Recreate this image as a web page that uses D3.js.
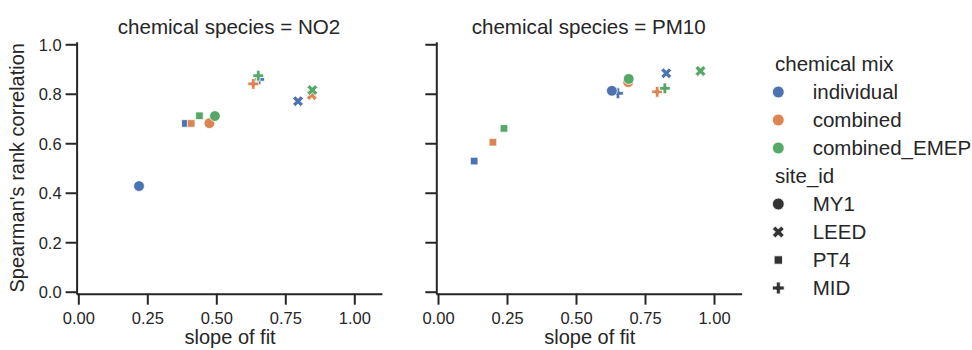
<!DOCTYPE html>
<html lang="en">
<head>
  <meta charset="UTF-8">
  <style>
    body { margin: 0; background: #fff; }
    svg { font-family: Arial, "Liberation Sans", sans-serif; }
    .axis path, .axis line { stroke: #262626; stroke-width: 2; }
    .axis text { fill: #262626; font-size: 16.5px; }
    .label { fill: #262626; font-size: 20px; }
    .title { fill: #262626; font-size: 20.6px; }
    .legend text { fill: #262626; font-size: 20.5px; }
  </style>
</head>
<body>
  <svg id="chart" width="972" height="350"></svg>
  <script src="https://cdnjs.cloudflare.com/ajax/libs/d3/7.8.5/d3.min.js"></script>
  <script>
    // categories
    const species = ['NO2', 'PM10']
    const mixes = ['individual', 'combined', 'combined_EMEP']
    const sites = ['MY1', 'LEED', 'PT4', 'MID']
    const mixColors = ['#4c72b0', '#dd8452', '#55a868']
    const xTicks = [0, 0.25, 0.5, 0.75, 1.0]
    const yTicks = [0, 0.2, 0.4, 0.6, 0.8, 1.0]

    // values, indexed like `sites`
    const no2IndividualSlope = [0.220, 0.796, 0.388, 0.655]
    const no2IndividualCorr  = [0.427, 0.770, 0.680, 0.858]
    const no2CombinedSlope   = [0.475, 0.846, 0.409, 0.634]
    const no2CombinedCorr    = [0.681, 0.795, 0.680, 0.840]
    const no2EmepSlope       = [0.495, 0.848, 0.439, 0.652]
    const no2EmepCorr        = [0.710, 0.815, 0.711, 0.873]

    const pm10IndividualSlope = [0.630, 0.827, 0.131, 0.652]
    const pm10IndividualCorr  = [0.812, 0.883, 0.528, 0.802]
    const pm10CombinedSlope   = [0.689, 0.951, 0.199, 0.794]
    const pm10CombinedCorr    = [0.847, 0.890, 0.604, 0.808]
    const pm10EmepSlope       = [0.691, 0.951, 0.239, 0.822]
    const pm10EmepCorr        = [0.860, 0.892, 0.660, 0.822]

    const series = {
      NO2: [[no2IndividualSlope, no2IndividualCorr], [no2CombinedSlope, no2CombinedCorr], [no2EmepSlope, no2EmepCorr]],
      PM10: [[pm10IndividualSlope, pm10IndividualCorr], [pm10CombinedSlope, pm10CombinedCorr], [pm10EmepSlope, pm10EmepCorr]],
    }
    // plotting order of the rows (site first, then mix)
    const drawSites = ['LEED', 'PT4', 'MID', 'MY1']

    // marker shapes, unit size (extent 1)
    const shapes = {
      MY1: null,
      LEED: [[-1,-2],[0,-1],[1,-2],[2,-1],[1,0],[2,1],[1,2],[0,1],[-1,2],[-2,1],[-1,0],[-2,-1]].map(p => [p[0]/4, p[1]/4]),
      PT4: [[-0.3536,-0.3536],[0.3536,-0.3536],[0.3536,0.3536],[-0.3536,0.3536]],
      MID: [[-1,-3],[1,-3],[1,-1],[3,-1],[3,1],[1,1],[1,3],[-1,3],[-1,1],[-3,1],[-3,-1],[-1,-1]].map(p => [p[0]/6, p[1]/6]),
    }
    function markerPath(site, size) {
      if (site === 'MY1') {
        const r = size / 2
        return `M${-r},0A${r},${r} 0 1,0 ${r},0A${r},${r} 0 1,0 ${-r},0Z`
      }
      return 'M' + shapes[site].map(p => [p[0]*size, p[1]*size].join(',')).join('L') + 'Z'
    }
    const msize = 10.8

    const svg = d3.select('#chart')

    const yScale = d3.scaleLinear().domain([-0.008, 1.01]).range([293.7, 41.8])
    const panels = [
      { sp: 'NO2', x0: 76.1 },
      { sp: 'PM10', x0: 435.8 },
    ]
    const panelW = 305.8

    panels.forEach((p, pi) => {
      const xScale = d3.scaleLinear().domain([-0.008, 1.1]).range([p.x0, p.x0 + panelW])
      const g = svg.append('g')

      // y axis
      const yAxis = d3.axisLeft(yScale).tickValues(yTicks).tickSize(11).tickSizeOuter(0).tickPadding(4)
        .tickFormat(d3.format('.1f'))
      const ya = g.append('g').attr('class', 'axis')
          .attr('transform', `translate(${p.x0 + 0.5},0)`)
          .call(yAxis)
      ya.selectAll('text').attr('dy', '0.36em')
      if (pi > 0) ya.selectAll('text').remove()

      // x axis
      const xAxis = d3.axisBottom(xScale).tickValues(xTicks).tickSize(11).tickSizeOuter(0).tickPadding(8)
        .tickFormat(d3.format('.2f'))
      g.append('g').attr('class', 'axis')
          .attr('transform', `translate(0,${yScale(-0.008)})`)
          .call(xAxis)

      // labels
      g.append('text').attr('class', 'label')
          .attr('x', xScale(0.55)).attr('y', 343.5)
          .attr('text-anchor', 'middle').text('slope of fit')
      if (pi === 0) {
        g.append('text').attr('class', 'label')
            .attr('transform', `translate(24,${(yScale(-0.008) + yScale(1.01)) / 2}) rotate(-90)`)
            .attr('text-anchor', 'middle').text("Spearman's rank correlation")
      }
      g.append('text').attr('class', 'title')
          .attr('x', p.x0 + panelW / 2).attr('y', 34)
          .attr('text-anchor', 'middle').text(`chemical species = ${p.sp}`)

      // points
      const rows = []
      drawSites.forEach(s => {
        const si = sites.indexOf(s)
        mixes.forEach((m, mi) => {
          const [sx, sy] = series[p.sp][mi]
          rows.push({ site: s, mix: mi, x: sx[si], y: sy[si] })
        })
      })
      g.append('g').selectAll('path')
        .data(rows)
        .join('path')
          .attr('d', d => markerPath(d.site, msize))
          .attr('transform', d => `translate(${xScale(d.x)},${yScale(d.y)})`)
          .attr('fill', d => mixColors[d.mix])
          .attr('stroke', '#fff')
          .attr('stroke-width', 0.8)
    })

    // legend
    const leg = svg.append('g').attr('class', 'legend')
    const legX = 778.3, textX = 812.7, rowY = i => 64 + 28 * i
    leg.append('text').attr('x', 775).attr('y', rowY(0) + 7).text('chemical mix')
    mixes.forEach((m, i) => {
      leg.append('path').attr('d', markerPath('MY1', 11.8))
          .attr('transform', `translate(${legX},${rowY(i + 1)})`)
          .attr('fill', mixColors[i]).attr('stroke', '#fff').attr('stroke-width', 0.8)
      leg.append('text').attr('x', textX).attr('y', rowY(i + 1) + 7).text(m)
    })
    leg.append('text').attr('x', 775).attr('y', rowY(4) + 7).text('site_id')
    sites.forEach((s, i) => {
      leg.append('path').attr('d', markerPath(s, 11.8))
          .attr('transform', `translate(${legX},${rowY(i + 5)})`)
          .attr('fill', '#333333').attr('stroke', '#fff').attr('stroke-width', 0.8)
      leg.append('text').attr('x', textX).attr('y', rowY(i + 5) + 7).text(s)
    })
  </script>
</body>
</html>
